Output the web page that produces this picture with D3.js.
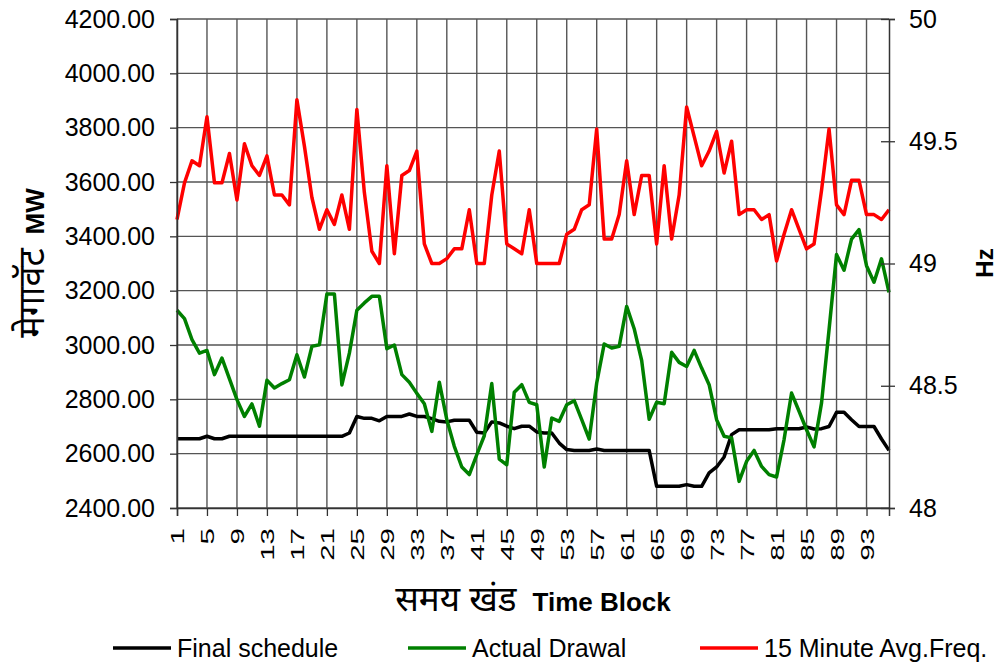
<!DOCTYPE html>
<html>
<head>
  <meta charset="utf-8">
  <title>Schedule vs Drawal</title>
  <script src="https://cdn.jsdelivr.net/npm/d3@7"></script>
  <style>
    body { margin: 0; background: #fff; }
    svg { font-family: "Liberation Sans", Arial, sans-serif; }
    .hi { font-family: "Noto Sans Devanagari", "Lohit Devanagari", "FreeSans", "Noto Sans", sans-serif; }
  </style>
</head>
<body>
<div id="chart"></div>
<script>
// time blocks (15 minute) 1..96
const blocks = d3.range(1, 97);
const xTicks = [1, 5, 9, 13, 17, 21, 25, 29, 33, 37, 41, 45, 49, 53, 57, 61, 65, 69, 73, 77, 81, 85, 89, 93];
const mwTicks = [2400, 2600, 2800, 3000, 3200, 3400, 3600, 3800, 4000, 4200];
const hzTicks = [48, 48.5, 49, 49.5, 50];

const schedule = [
  2655, 2655, 2655, 2655, 2664, 2655, 2655, 2664, 2664, 2664,
  2664, 2664, 2664, 2664, 2664, 2664, 2664, 2664, 2664, 2664,
  2664, 2664, 2664, 2676, 2737, 2730, 2730, 2721, 2737, 2737,
  2737, 2746, 2737, 2737, 2729, 2719, 2717, 2723, 2723, 2723,
  2679, 2676, 2717, 2713, 2701, 2692, 2701, 2701, 2680, 2676,
  2676, 2639, 2615, 2612, 2612, 2612, 2617, 2612, 2612, 2612,
  2612, 2612, 2612, 2612, 2480, 2480, 2480, 2480, 2486, 2480,
  2480, 2529, 2551, 2588, 2670, 2688, 2688, 2688, 2688, 2688,
  2692, 2692, 2692, 2692, 2698, 2691, 2692, 2700, 2752, 2752,
  2725, 2700, 2700, 2700, 2654, 2612
];

const drawal = [
  3128, 3097, 3020, 2970, 2980, 2891, 2952, 2875, 2799, 2737,
  2783, 2701, 2870, 2842, 2858, 2872, 2964, 2882, 2995, 3001,
  3188, 3188, 2853, 2970, 3128, 3155, 3179, 3179, 2986, 3000,
  2891, 2863, 2822, 2784, 2682, 2863, 2725, 2627, 2551, 2523,
  2596, 2666, 2858, 2580, 2559, 2826, 2854, 2789, 2780, 2551,
  2731, 2719, 2780, 2795, 2725, 2654, 2860, 3004, 2989, 2995,
  3142, 3060, 2943, 2727, 2789, 2784, 2973, 2936, 2921, 2980,
  2915, 2854, 2725, 2664, 2658, 2498, 2572, 2612, 2553, 2523,
  2514, 2652, 2823, 2756, 2688, 2625, 2787, 3056, 3333, 3275,
  3390, 3425, 3292, 3231, 3317, 3194
];

const freq = [
  49.18, 49.33, 49.42, 49.40, 49.60, 49.33, 49.33, 49.45, 49.26, 49.49,
  49.40, 49.36, 49.44, 49.28, 49.28, 49.24, 49.67, 49.48, 49.27, 49.14,
  49.22, 49.16, 49.28, 49.14, 49.63, 49.29, 49.05, 49.00, 49.40, 49.04,
  49.36, 49.38, 49.46, 49.08, 49.00, 49.00, 49.02, 49.06, 49.06, 49.22,
  49.00, 49.00, 49.28, 49.46, 49.08, 49.06, 49.04, 49.22, 49.00, 49.00,
  49.00, 49.00, 49.12, 49.14, 49.22, 49.24, 49.55, 49.10, 49.10, 49.20,
  49.42, 49.20, 49.36, 49.36, 49.08, 49.40, 49.10, 49.28, 49.64, 49.52,
  49.40, 49.46, 49.54, 49.37, 49.50, 49.20, 49.22, 49.22, 49.18, 49.20,
  49.01, 49.12, 49.22, 49.14, 49.06, 49.08, 49.30, 49.55, 49.24, 49.20,
  49.34, 49.34, 49.20, 49.20, 49.18, 49.22
];

const seriesNames = ['Final schedule', 'Actual Drawal', '15 Minute Avg.Freq.'];
const seriesColors = ['#000000', '#008000', '#ff0000'];

let margin = { top: 19, right: 109, bottom: 155, left: 177 };
let W = 998, H = 663;
let w = W - margin.left - margin.right;
let h = H - margin.top - margin.bottom;

let x = d3.scaleLinear().domain([1, 96]).range([0, w]);
let yL = d3.scaleLinear().domain([2400, 4200]).range([h, 0]);
let yR = d3.scaleLinear().domain([48, 50]).range([h, 0]);

let svg = d3.select('#chart').append('svg')
  .attr('width', W)
  .attr('height', H);

let g = svg.append('g')
  .attr('transform', `translate(${margin.left}, ${margin.top})`);

// grid
g.append('g').selectAll('line.h')
  .data(mwTicks)
  .enter().append('line')
  .attr('x1', 0).attr('x2', w)
  .attr('y1', d => yL(d)).attr('y2', d => yL(d))
  .attr('stroke', '#555').attr('stroke-width', 1.4);

g.append('g').selectAll('line.v')
  .data(xTicks)
  .enter().append('line')
  .attr('x1', d => x(d)).attr('x2', d => x(d))
  .attr('y1', 0).attr('y2', h)
  .attr('stroke', '#555').attr('stroke-width', 1.4);

// series
let lineL = d3.line().x((d, i) => x(blocks[i])).y(d => yL(d));
let lineR = d3.line().x((d, i) => x(blocks[i])).y(d => yR(d));

[schedule, drawal].forEach((s, k) => {
  g.append('path')
    .datum(s)
    .attr('d', lineL)
    .attr('fill', 'none')
    .attr('stroke', seriesColors[k])
    .attr('stroke-width', 3.5)
    .attr('stroke-linejoin', 'round');
});

g.append('path')
  .datum(freq)
  .attr('d', lineR)
  .attr('fill', 'none')
  .attr('stroke', seriesColors[2])
  .attr('stroke-width', 3.5)
  .attr('stroke-linejoin', 'round');

// axes
let axL = g.append('g')
  .call(d3.axisLeft(yL).tickValues(mwTicks).tickSize(7).tickPadding(15).tickFormat(d3.format('.2f')));
axL.selectAll('text').attr('font-size', 25).attr('fill', '#000');

let axR = g.append('g')
  .attr('transform', `translate(${w}, 0)`)
  .call(d3.axisRight(yR).tickValues(hzTicks).tickSize(6).tickPadding(14).tickFormat(d => String(d)));
axR.selectAll('text').attr('font-size', 25).attr('fill', '#000');
axR.selectAll('.tick line').attr('x1', -8);

let axB = g.append('g')
  .attr('transform', `translate(0, ${h})`)
  .call(d3.axisBottom(x).tickValues(xTicks).tickSize(8).tickFormat(''));
axB.selectAll('.tick')
  .append('text')
  .attr('transform', 'translate(0, 20) rotate(-90) scale(1.55, 1)')
  .attr('text-anchor', 'end')
  .attr('dy', '0.36em')
  .attr('font-size', 19)
  .attr('fill', '#000')
  .text(d => d);

[axL, axR, axB].forEach(a => {
  a.select('.domain').attr('stroke', '#333').attr('stroke-width', 1.5);
  a.selectAll('.tick line').attr('stroke', '#333').attr('stroke-width', 1.3);
});

// axis titles
let tL = svg.append('text')
  .attr('transform', 'translate(44, 263) rotate(-90)')
  .attr('text-anchor', 'middle')
  .attr('fill', '#000');
tL.append('tspan').attr('class', 'hi').attr('font-size', 36).text('मेगावॅट');
tL.append('tspan').attr('dx', 14).attr('font-size', 26).attr('font-weight', 'bold').text('MW');

let tB = svg.append('text')
  .attr('x', 533).attr('y', 611)
  .attr('text-anchor', 'middle')
  .attr('fill', '#000');
tB.append('tspan').attr('class', 'hi').attr('font-size', 35).text('समय खंड');
tB.append('tspan').attr('dx', 16).attr('font-size', 26).attr('font-weight', 'bold').text('Time Block');

svg.append('text')
  .attr('transform', 'translate(993, 263) rotate(-90)')
  .attr('text-anchor', 'middle')
  .attr('font-size', 24)
  .attr('font-weight', 'bold')
  .text('Hz');

// legend
let legX = [113, 408, 700];
let leg = svg.append('g').attr('transform', 'translate(0, 648)');
let items = leg.selectAll('g')
  .data(seriesNames)
  .enter().append('g')
  .attr('transform', (d, i) => `translate(${legX[i]}, 0)`);
items.append('line')
  .attr('x1', 0).attr('x2', 58)
  .attr('stroke', (d, i) => seriesColors[i])
  .attr('stroke-width', 3.5);
items.append('text')
  .attr('x', 64)
  .attr('dy', '0.35em')
  .attr('font-size', 25)
  .text(d => d);
</script>
</body>
</html>
